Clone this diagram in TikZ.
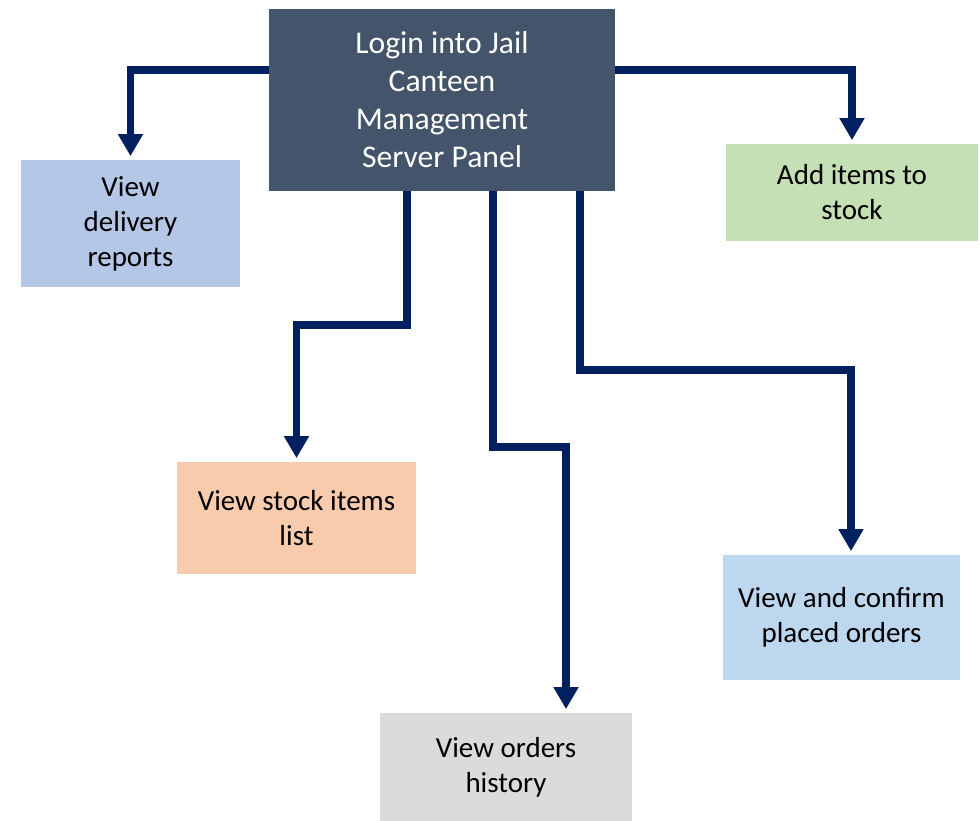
\documentclass[tikz,border=0pt]{standalone}
\usepackage{fontspec}
\setmainfont{Carlito}
\usetikzlibrary{arrows.meta, positioning}

\definecolor{panelgray}{HTML}{44546A}
\definecolor{linknavy}{HTML}{002060}
\definecolor{delivblue}{HTML}{B4C7E7}
\definecolor{addgreen}{HTML}{C5E0B4}
\definecolor{stockpeach}{HTML}{F8CBAD}
\definecolor{histgray}{HTML}{DBDBDB}
\definecolor{confblue}{HTML}{BDD7EE}

\begin{document}
\begin{tikzpicture}[x=0.02cm, y=-0.02cm,
    box/.style={rectangle, inner sep=0pt, align=center, font=\fontsize{16.5}{19.9}\selectfont},
    link/.style={draw=linknavy, line width=4.5pt, -{Triangle[width=13.5pt,length=12.5pt]}, shorten >=2pt}]
    \useasboundingbox (0,0) rectangle (980,821);
    % boxes
    \node[box, fill=panelgray, text=white, minimum width=346*0.02cm, minimum height=182*0.02cm,
          font=\fontsize{18}{21.6}\selectfont] (panel) at (442,100)
        {Login into Jail\\Canteen\\Management\\Server Panel};
    \node[box, fill=delivblue, minimum width=219*0.02cm, minimum height=127*0.02cm] (deliv) at (130.5,223.5)
        {View\\delivery\\reports};
    \node[box, fill=addgreen, minimum width=252*0.02cm, minimum height=97*0.02cm] (additems) at (852,192.5)
        {Add items to\\stock};
    \node[box, fill=stockpeach, minimum width=239*0.02cm, minimum height=112*0.02cm] (stock) at (296.5,518)
        {View stock items\\list};
    \node[box, fill=histgray, minimum width=252*0.02cm, minimum height=108*0.02cm] (history) at (506,767)
        {View orders\\history};
    \node[box, fill=confblue, minimum width=237*0.02cm, minimum height=125*0.02cm] (confirm) at (841.5,617.5)
        {View and confirm\\placed orders};
    % where the links leave and land
    \coordinate (sx) at (407,0);
    \coordinate (hx) at (493,0);
    \coordinate (cx) at (580,0);
    \coordinate (hend) at (566,0);
    \coordinate (cend) at (851,0);
    % links
    \draw[link] (panel.west |- 0,70) -| (deliv.north);
    \draw[link] (panel.east |- 0,70) -| (additems.north);
    \draw[link] (panel.south -| sx) -- (407,325) -| (stock.north);
    \draw[link] (panel.south -| hx) -- (493,447) -| (history.north -| hend);
    \draw[link] (panel.south -| cx) -- (580,370) -| (confirm.north -| cend);
\end{tikzpicture}
\end{document}
